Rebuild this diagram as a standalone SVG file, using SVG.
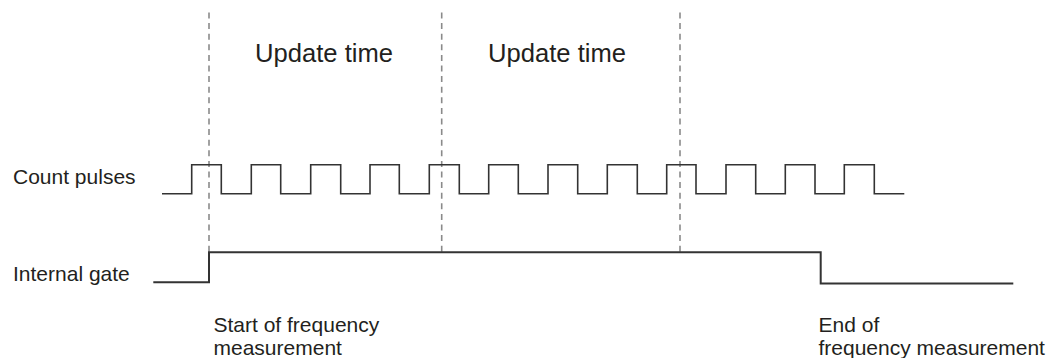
<svg xmlns="http://www.w3.org/2000/svg" width="1057" height="358" viewBox="0 0 1057 358">
<style>
text{font-family:"Liberation Sans",Arial,sans-serif;fill:#231f20}
.lbl{font-size:21px}
.big{font-size:25.6px}
.dash{stroke:#8a8a8a;stroke-width:1.6;stroke-dasharray:6 4.6;fill:none}
.sig{stroke:#333;stroke-width:1.6;fill:none}
.gate{stroke:#333;stroke-width:2;fill:none}
</style>
<rect width="1057" height="358" fill="#fff"/>
<g id="markers">
<line class="dash" x1="209" y1="12.5" x2="209" y2="282"/>
<line class="dash" x1="441.7" y1="12.5" x2="441.7" y2="253"/>
<line class="dash" x1="680" y1="12.5" x2="680" y2="253"/>
</g>
<g id="update1"><text class="big" x="255" y="62">Update time</text></g>
<g id="update2"><text class="big" x="488" y="62">Update time</text></g>
<g id="count-pulses">
<text class="lbl" x="13" y="184">Count pulses</text>
<path class="sig" d="M162 193.7H191.7V164.7H221.3V193.7H251.3V164.7H280.7V193.7H310.7V164.7H340.7V193.7H370V164.7H399.3V193.7H429.3V164.7H459.3V193.7H488.7V164.7H518.3V193.7H548V164.7H577.7V193.7H607.3V164.7H637.3V193.7H666.7V164.7H696V193.7H726V164.7H755.7V193.7H785.3V164.7H815V193.7H844.3V164.7H874.3V193.7H904.3"/>
</g>
<g id="internal-gate">
<text class="lbl" x="13" y="281">Internal gate</text>
<path class="gate" d="M153.3 282.3H209V252.3H820.7V283.5H1013.3"/>
</g>
<g id="start-label"><text class="lbl" x="213.5" y="332">Start of frequency</text><text class="lbl" x="213.5" y="354.5">measurement</text></g>
<g id="end-label"><text class="lbl" x="818.5" y="332">End of</text><text class="lbl" x="818.5" y="354.5">frequency measurement</text></g>
<g id="connectors"></g>
</svg>
